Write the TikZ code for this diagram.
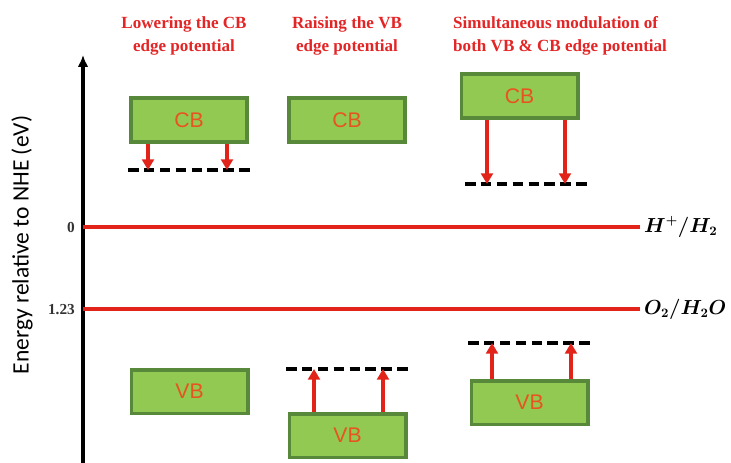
\documentclass[tikz,border=0pt]{standalone}
\usepackage{amsmath}
\usepackage{bm}
\usepackage{fontspec}
\setmainfont{Liberation Serif}
\newfontfamily\bandfont{Liberation Sans}
\newfontfamily\axisfont{Carlito}
\usetikzlibrary{arrows.meta}
\usetikzlibrary{calc}

\definecolor{titlered}{HTML}{E32526}
\definecolor{bandtext}{HTML}{E8531E}
\definecolor{bandfill}{HTML}{92C953}
\definecolor{banddraw}{HTML}{58893A}
\definecolor{levelred}{HTML}{E2231A}

\begin{document}
\begin{tikzpicture}[x=0.85pt, y=-0.85pt,
    band/.style={rectangle, draw=banddraw, fill=bandfill, line width=3pt,
      minimum width=99pt, minimum height=37pt, inner sep=0pt,
      text=bandtext, font=\bandfont\fontsize{18}{20}\selectfont},
    shifted/.style={draw, line width=3.4pt, dash pattern=on 9pt off 4.5pt},
    push/.style={levelred, line width=2.6pt, -{Triangle[length=9pt, width=10pt]}},
    level/.style={levelred, line width=2.8pt},
    heading/.style={text=titlered, font=\bfseries\fontsize{14.5}{19}\selectfont, inner sep=0pt}]
      \useasboundingbox (0, 0) rectangle (731, 463);

      \node[heading, align=center] (t1) at (184, 36) {Lowering the CB \\ edge potential};
      \node[heading, align=center] (t2) at (347, 36) {Raising the VB \\ edge potential};
      \node[heading, align=left, anchor=west] (t3) at (453, 36) {Simultaneous modulation of \\ both VB \& CB edge potential};

      \coordinate (axb) at (83, 463);
      \coordinate (axt) at (83, 55);
      \draw[line width=2.8pt, -{Latex[length=10pt, width=9pt]}] (axb) -- (axt);
      \node[rotate=90, font=\axisfont\fontsize{20}{22}\selectfont] (ylab) at (22, 245) {Energy relative to NHE (eV)};

      \coordinate (h0) at (83, 227);
      \coordinate (h1) at (640, 227);
      \coordinate (o0) at (83, 309);
      \coordinate (o1) at (640, 309);
      \draw[level] (h0) -- (h1);
      \draw[level] (o0) -- (o1);
      \node[anchor=east, font=\bfseries\fontsize{13}{15}\selectfont, text=black!80] (tick0) at (79, 227) {0};
      \node[anchor=east, font=\bfseries\fontsize{13}{15}\selectfont, text=black!80] (tick1) at (79, 310) {1.23};
      \node[anchor=west, font=\boldmath\fontsize{16}{18}\selectfont] (hlab) at (h1) {$\bm{H^{+}/H_{2}}$};
      \node[anchor=west, font=\boldmath\fontsize{16}{18}\selectfont] (olab) at (o1) {$\bm{O_{2}/H_{2}O}$};

      \node[band] (cbA) at (189, 120) {CB};
      \node[band] (cbB) at (347, 120) {CB};
      \node[band] (cbC) at (519.5, 96) {CB};
      \node[band] (vbA) at (189.5, 391.5) {VB};
      \node[band] (vbB) at (347.5, 435.5) {VB};
      \node[band] (vbC) at (529.5, 402.5) {VB};

      \coordinate (lowA1) at (128, 170);
      \coordinate (lowA2) at (250, 170);
      \coordinate (upB1) at (286, 369);
      \coordinate (upB2) at (408, 369);
      \coordinate (lowC1) at (465, 184);
      \coordinate (lowC2) at (587, 184);
      \coordinate (upC1) at (468, 343);
      \coordinate (upC2) at (590, 343);
      \draw[shifted] (lowA1) -- (lowA2);
      \draw[shifted] (upB1) -- (upB2);
      \draw[shifted] (lowC1) -- (lowC2);
      \draw[shifted] (upC1) -- (upC2);

      \coordinate (pA1) at ($(cbA.south)+(-41, 0)$);
      \coordinate (pA2) at ($(cbA.south)+(38, 0)$);
      \coordinate (pB1) at ($(vbB.north)+(-33.5, 0)$);
      \coordinate (pB2) at ($(vbB.north)+(35.5, 0)$);
      \coordinate (pC1) at ($(cbC.south)+(-32.5, 0)$);
      \coordinate (pC2) at ($(cbC.south)+(45.5, 0)$);
      \coordinate (pD1) at ($(vbC.north)+(-37.5, 0)$);
      \coordinate (pD2) at ($(vbC.north)+(41.5, 0)$);
      \draw[push] (pA1) -- (pA1 |- lowA1);
      \draw[push] (pA2) -- (pA2 |- lowA1);
      \draw[push] (pB1) -- (pB1 |- upB1);
      \draw[push] (pB2) -- (pB2 |- upB1);
      \draw[push] (pC1) -- (pC1 |- lowC1);
      \draw[push] (pC2) -- (pC2 |- lowC1);
      \draw[push] (pD1) -- (pD1 |- upC1);
      \draw[push] (pD2) -- (pD2 |- upC1);
    \end{tikzpicture}
\end{document}
